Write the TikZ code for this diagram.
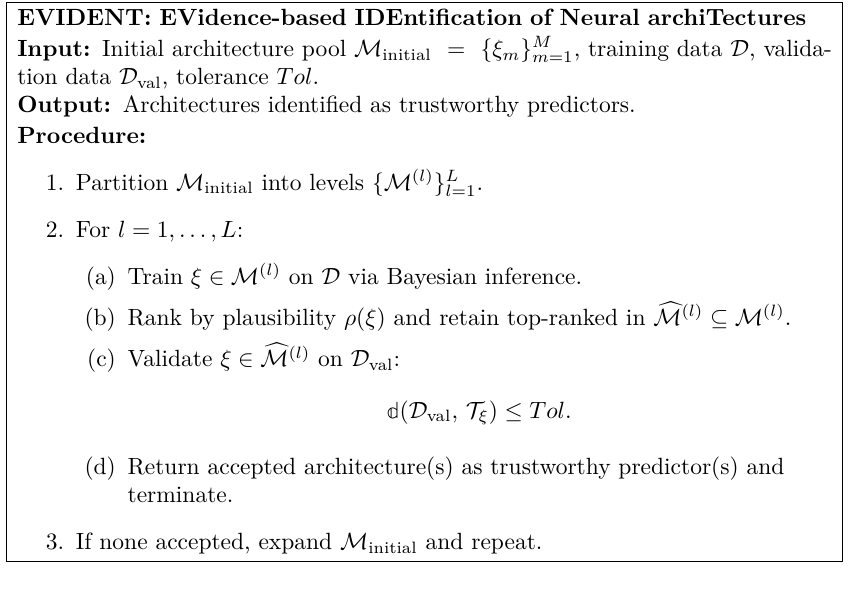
\documentclass[tikz,border=0pt]{standalone}
\usepackage{amsmath,amssymb}
\usepackage{fontspec}
\newfontfamily\lmmath{Latin Modern Math}
\newcommand{\ddist}{\text{\lmmath 𝕕}}
\begin{document}
\begin{tikzpicture}
\useasboundingbox (0,0) rectangle (362pt,-260.6pt);
\tikzset{algbox/.style={draw, line width=0.5pt, anchor=north west, inner xsep=4.5pt, inner ysep=3pt, text width=347pt, align=left}}
\node[algbox] (box) at (2.6pt,-0.8pt) {%
\begin{minipage}{347pt}
\textbf{EVIDENT: EVidence-based IDEntification of Neural archiTectures}\\[1pt]
\textbf{Input:} Initial architecture pool $\mathcal{M}_{\text{initial}}=\{\xi_m\}_{m=1}^{M}$, training data $\mathcal{D}$, validation data $\mathcal{D}_{\text{val}}$, tolerance $Tol$.\\
\textbf{Output:} Architectures identified as trustworthy predictors.\\[1pt]
\textbf{Procedure:}
\begin{enumerate}
\item Partition $\mathcal{M}_{\text{initial}}$ into levels $\{\mathcal{M}^{(l)}\}_{l=1}^{L}$.
\item For $l=1,\dots,L$:
\begin{enumerate}
\item Train $\xi\in\mathcal{M}^{(l)}$ on $\mathcal{D}$ via Bayesian inference.
\item Rank by plausibility $\rho(\xi)$ and retain top-ranked in $\widehat{\mathcal{M}}^{(l)}\subseteq\mathcal{M}^{(l)}$.
\item Validate $\xi\in\widehat{\mathcal{M}}^{(l)}$ on $\mathcal{D}_{\text{val}}$:
\[\ddist(\mathcal{D}_{\text{val}},\,\mathcal{T}_\xi)\le Tol.\]
\item Return accepted architecture(s) as trustworthy predictor(s) and ter\-minate.
\end{enumerate}
\item If none accepted, expand $\mathcal{M}_{\text{initial}}$ and repeat.
\end{enumerate}
\end{minipage}};
\end{tikzpicture}
\end{document}
